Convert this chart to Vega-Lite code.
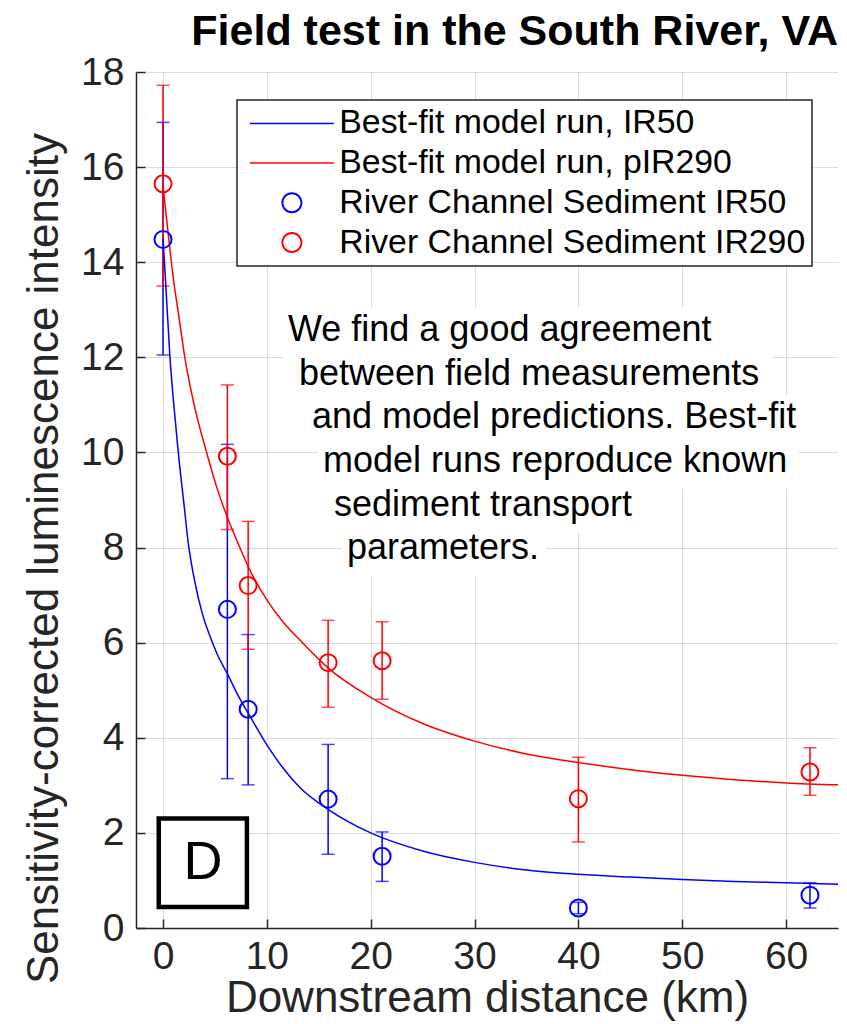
{
  "$schema": "https://vega.github.io/schema/vega-lite/v6.json",
  "width": 702,
  "height": 856,
  "autosize": {"type": "none"},
  "padding": {"left": 136, "top": 72, "right": 9, "bottom": 96},
  "background": "white",
  "title": {
    "text": "Field test in the South River, VA",
    "anchor": "end",
    "frame": "group",
    "font": "Liberation Sans",
    "fontSize": 43,
    "fontWeight": "bold",
    "color": "black",
    "baseline": "alphabetic",
    "offset": -10,
    "dy": 25
  },
  "config": {
    "view": {"stroke": null},
    "axis": {
      "domainColor": "#262626",
      "domainWidth": 1.5,
      "tickColor": "#262626",
      "tickWidth": 1.5,
      "tickSize": -9,
      "gridColor": "#dcdcdc",
      "gridWidth": 1,
      "labelFont": "Liberation Sans",
      "labelFontSize": 39,
      "labelColor": "#262626",
      "titleFont": "Liberation Sans",
      "titleFontSize": 44,
      "titleFontWeight": "normal",
      "titleColor": "#262626"
    }
  },
  "datasets": {
    "model": [
      {"series": "Best-fit model run, IR50", "x": 0, "y": 14.5},
      {"series": "Best-fit model run, IR50", "x": 0.3, "y": 13.4},
      {"series": "Best-fit model run, IR50", "x": 0.67, "y": 12.0},
      {"series": "Best-fit model run, IR50", "x": 1.0, "y": 11.1},
      {"series": "Best-fit model run, IR50", "x": 1.47, "y": 10.0},
      {"series": "Best-fit model run, IR50", "x": 2.0, "y": 8.95},
      {"series": "Best-fit model run, IR50", "x": 2.43, "y": 8.1},
      {"series": "Best-fit model run, IR50", "x": 3.0, "y": 7.35},
      {"series": "Best-fit model run, IR50", "x": 3.8, "y": 6.6},
      {"series": "Best-fit model run, IR50", "x": 4.5, "y": 6.15},
      {"series": "Best-fit model run, IR50", "x": 5.14, "y": 5.8},
      {"series": "Best-fit model run, IR50", "x": 6.3, "y": 5.3},
      {"series": "Best-fit model run, IR50", "x": 7.3, "y": 4.86},
      {"series": "Best-fit model run, IR50", "x": 8.3, "y": 4.48},
      {"series": "Best-fit model run, IR50", "x": 10, "y": 3.85},
      {"series": "Best-fit model run, IR50", "x": 11.5, "y": 3.38},
      {"series": "Best-fit model run, IR50", "x": 13.2, "y": 2.95},
      {"series": "Best-fit model run, IR50", "x": 16, "y": 2.48},
      {"series": "Best-fit model run, IR50", "x": 20, "y": 2.0},
      {"series": "Best-fit model run, IR50", "x": 25, "y": 1.62},
      {"series": "Best-fit model run, IR50", "x": 30, "y": 1.38},
      {"series": "Best-fit model run, IR50", "x": 35, "y": 1.22},
      {"series": "Best-fit model run, IR50", "x": 40, "y": 1.13},
      {"series": "Best-fit model run, IR50", "x": 45, "y": 1.07},
      {"series": "Best-fit model run, IR50", "x": 50, "y": 1.02},
      {"series": "Best-fit model run, IR50", "x": 55, "y": 0.98},
      {"series": "Best-fit model run, IR50", "x": 60, "y": 0.95},
      {"series": "Best-fit model run, IR50", "x": 65, "y": 0.92},
      {"series": "Best-fit model run, pIR290", "x": 0, "y": 15.6},
      {"series": "Best-fit model run, pIR290", "x": 0.35, "y": 14.9},
      {"series": "Best-fit model run, pIR290", "x": 1.0, "y": 13.65},
      {"series": "Best-fit model run, pIR290", "x": 1.5, "y": 12.9},
      {"series": "Best-fit model run, pIR290", "x": 2.1, "y": 12.0},
      {"series": "Best-fit model run, pIR290", "x": 3.0, "y": 11.0},
      {"series": "Best-fit model run, pIR290", "x": 4.2, "y": 10.0},
      {"series": "Best-fit model run, pIR290", "x": 5.2, "y": 9.25},
      {"series": "Best-fit model run, pIR290", "x": 6.26, "y": 8.6},
      {"series": "Best-fit model run, pIR290", "x": 7.4, "y": 8.0},
      {"series": "Best-fit model run, pIR290", "x": 8.2, "y": 7.6},
      {"series": "Best-fit model run, pIR290", "x": 10, "y": 6.9},
      {"series": "Best-fit model run, pIR290", "x": 11.5, "y": 6.45},
      {"series": "Best-fit model run, pIR290", "x": 13.2, "y": 6.05},
      {"series": "Best-fit model run, pIR290", "x": 16, "y": 5.45},
      {"series": "Best-fit model run, pIR290", "x": 20, "y": 4.85},
      {"series": "Best-fit model run, pIR290", "x": 25, "y": 4.3},
      {"series": "Best-fit model run, pIR290", "x": 30, "y": 3.93},
      {"series": "Best-fit model run, pIR290", "x": 35, "y": 3.66},
      {"series": "Best-fit model run, pIR290", "x": 40, "y": 3.48},
      {"series": "Best-fit model run, pIR290", "x": 45, "y": 3.33},
      {"series": "Best-fit model run, pIR290", "x": 50, "y": 3.21},
      {"series": "Best-fit model run, pIR290", "x": 55, "y": 3.12},
      {"series": "Best-fit model run, pIR290", "x": 60, "y": 3.05},
      {"series": "Best-fit model run, pIR290", "x": 65, "y": 3.01}
    ],
    "obs": [
      {"series": "River Channel Sediment IR50", "x": 0, "y": 14.48, "lo": 12.05, "hi": 16.94},
      {"series": "River Channel Sediment IR50", "x": 6.2, "y": 6.7, "lo": 3.14, "hi": 10.17},
      {"series": "River Channel Sediment IR50", "x": 8.2, "y": 4.6, "lo": 3.01, "hi": 6.17},
      {"series": "River Channel Sediment IR50", "x": 15.9, "y": 2.71, "lo": 1.55, "hi": 3.86},
      {"series": "River Channel Sediment IR50", "x": 21.1, "y": 1.51, "lo": 0.98, "hi": 2.02},
      {"series": "River Channel Sediment IR50", "x": 40, "y": 0.42, "lo": 0.3, "hi": 0.54},
      {"series": "River Channel Sediment IR50", "x": 62.3, "y": 0.69, "lo": 0.42, "hi": 0.95},
      {"series": "River Channel Sediment IR290", "x": 0, "y": 15.65, "lo": 13.5, "hi": 17.72},
      {"series": "River Channel Sediment IR290", "x": 6.2, "y": 9.92, "lo": 8.38, "hi": 11.42},
      {"series": "River Channel Sediment IR290", "x": 8.2, "y": 7.2, "lo": 5.86, "hi": 8.55},
      {"series": "River Channel Sediment IR290", "x": 15.9, "y": 5.58, "lo": 4.64, "hi": 6.47},
      {"series": "River Channel Sediment IR290", "x": 21.1, "y": 5.62, "lo": 4.81, "hi": 6.44},
      {"series": "River Channel Sediment IR290", "x": 40, "y": 2.72, "lo": 1.81, "hi": 3.59},
      {"series": "River Channel Sediment IR290", "x": 62.3, "y": 3.28, "lo": 2.79, "hi": 3.79}
    ],
    "notes": [
      {"line": "We find a good agreement", "x": 12.03, "base": 12.34, "bx0": 11.55, "bx1": 54.0, "by0": 11.98, "by1": 13.03},
      {"line": "between field measurements", "x": 13.09, "base": 11.42, "bx0": 12.61, "bx1": 58.7, "by0": 11.06, "by1": 12.12},
      {"line": "and model predictions. Best-fit", "x": 14.34, "base": 10.51, "bx0": 13.86, "bx1": 62.2, "by0": 10.15, "by1": 11.2},
      {"line": "model runs reproduce known", "x": 15.4, "base": 9.59, "bx0": 14.92, "bx1": 61.2, "by0": 9.23, "by1": 10.29},
      {"line": "sediment transport", "x": 16.46, "base": 8.67, "bx0": 15.98, "bx1": 46.3, "by0": 8.31, "by1": 9.37},
      {"line": "parameters.", "x": 17.71, "base": 7.76, "bx0": 17.23, "bx1": 36.9, "by0": 7.4, "by1": 8.46}
    ]
  },
  "layer": [
    {
      "data": {"name": "obs"},
      "mark": {"type": "rule", "strokeWidth": 1.5},
      "encoding": {
        "x": {
          "field": "x",
          "type": "quantitative",
          "scale": {"domain": [-2.6, 65], "nice": false, "zero": false},
          "axis": {
            "values": [0, 10, 20, 30, 40, 50, 60],
            "title": "Downstream distance (km)",
            "labelPadding": 18,
            "titlePadding": 0
          }
        },
        "y": {
          "field": "lo",
          "type": "quantitative",
          "scale": {"domain": [0, 18], "nice": false, "zero": false},
          "axis": {
            "values": [0, 2, 4, 6, 8, 10, 12, 14, 16, 18],
            "title": "Sensitivity-corrected luminescence intensity",
            "titleFontSize": 44,
            "titleY": 486,
            "labelPadding": 21,
            "titlePadding": 14
          }
        },
        "y2": {"field": "hi"},
        "color": {
          "field": "series",
          "type": "nominal",
          "scale": {
            "domain": ["Best-fit model run, IR50", "Best-fit model run, pIR290", "River Channel Sediment IR50", "River Channel Sediment IR290"],
            "range": ["#0000ff", "#ff0000", "#0000ff", "#ff0000"]
          },
          "legend": {
            "title": null,
            "orient": "none",
            "legendX": 101,
            "legendY": 28,
            "padding": 6.5,
            "rowPadding": 4.7,
            "strokeColor": "#262626",
            "fillColor": "white",
            "labelFont": "Liberation Sans",
            "labelFontSize": 33.8,
            "labelColor": "black",
            "labelOffset": 62,
            "labelLimit": 0,
            "symbolSize": 441,
            "symbolStrokeWidth": 0,
            "encoding": {
              "legend": {"strokeWidth": {"value": 1.5}},
              "symbols": {
                "shape": {"value": {"expr": "indexof(datum.value, 'Best-fit') === 0 ? 'M-1,-0.07H7V0.07H-1Z' : 'M4,0A1,1,0,1,1,2,0A1,1,0,1,1,4,0ZM3.81,0A0.81,0.81,0,1,0,2.19,0A0.81,0.81,0,1,0,3.81,0Z'"}},
                "strokeWidth": {"value": 0},
                "size": {"value": 441},
                "opacity": {"value": 1}
              }
            }
          }
        }
      }
    },
    {
      "data": {"name": "obs"},
      "mark": {"type": "tick", "orient": "horizontal", "size": 13, "thickness": 1.5},
      "encoding": {
        "x": {"field": "x", "type": "quantitative"},
        "y": {"field": "lo", "type": "quantitative"},
        "color": {"field": "series", "type": "nominal"}
      }
    },
    {
      "data": {"name": "obs"},
      "mark": {"type": "tick", "orient": "horizontal", "size": 13, "thickness": 1.5},
      "encoding": {
        "x": {"field": "x", "type": "quantitative"},
        "y": {"field": "hi", "type": "quantitative"},
        "color": {"field": "series", "type": "nominal"}
      }
    },
    {
      "data": {"name": "model"},
      "mark": {"type": "line", "strokeWidth": 1.5, "interpolate": "monotone"},
      "encoding": {
        "x": {"field": "x", "type": "quantitative"},
        "y": {"field": "y", "type": "quantitative"},
        "color": {"field": "series", "type": "nominal"}
      }
    },
    {
      "data": {"name": "notes"},
      "mark": {"type": "rect", "fill": "white"},
      "encoding": {
        "x": {"field": "bx0", "type": "quantitative"},
        "x2": {"field": "bx1"},
        "y": {"field": "by0", "type": "quantitative"},
        "y2": {"field": "by1"}
      }
    },
    {
      "data": {"name": "notes"},
      "mark": {"type": "text", "align": "left", "baseline": "alphabetic", "font": "Liberation Sans", "fontSize": 36, "color": "black"},
      "encoding": {
        "x": {"field": "x", "type": "quantitative"},
        "y": {"field": "base", "type": "quantitative"},
        "text": {"field": "line"}
      }
    },
    {
      "data": {"values": [{}]},
      "mark": {"type": "rect", "fill": "white", "stroke": "black", "strokeWidth": 4.5},
      "encoding": {
        "x": {"datum": -0.41, "type": "quantitative"},
        "x2": {"datum": 8.08},
        "y": {"datum": 0.44, "type": "quantitative"},
        "y2": {"datum": 2.3}
      }
    },
    {
      "data": {"values": [{}]},
      "mark": {"type": "text", "align": "center", "baseline": "middle", "font": "Liberation Sans", "fontSize": 54, "color": "black", "text": "D"},
      "encoding": {
        "x": {"datum": 3.85, "type": "quantitative"},
        "y": {"datum": 1.37, "type": "quantitative"}
      }
    },
    {
      "data": {"name": "obs"},
      "mark": {"type": "point", "filled": false, "size": 290, "strokeWidth": 2, "opacity": 1},
      "encoding": {
        "x": {"field": "x", "type": "quantitative"},
        "y": {"field": "y", "type": "quantitative"},
        "color": {"field": "series", "type": "nominal"}
      }
    }
  ]
}
